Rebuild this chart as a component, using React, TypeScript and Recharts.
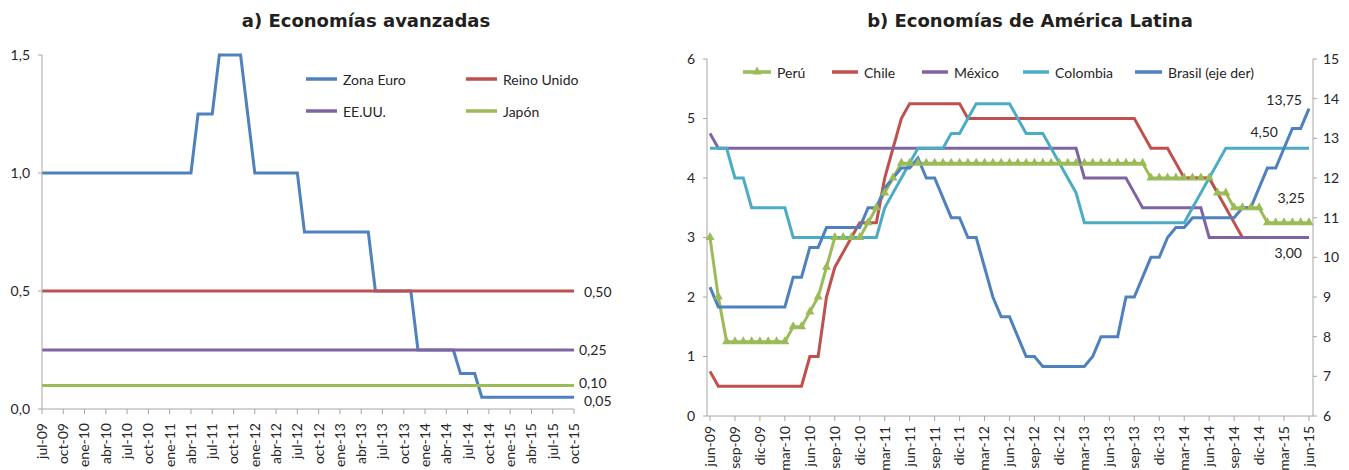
import { LineChart, Line, XAxis, YAxis, Legend, LabelList } from "recharts";

const FONT = "Lato, 'Open Sans', sans-serif";
const TEXT = "#262626";
const AXIS = "#A6A6A6";

// a) Economías avanzadas, monthly jul-09 .. oct-15
const mesesAvanzadas = [
  "jul-09", "ago-09", "sep-09", "oct-09", "nov-09", "dic-09",
  "ene-10", "feb-10", "mar-10", "abr-10", "may-10", "jun-10", "jul-10", "ago-10", "sep-10", "oct-10", "nov-10", "dic-10",
  "ene-11", "feb-11", "mar-11", "abr-11", "may-11", "jun-11", "jul-11", "ago-11", "sep-11", "oct-11", "nov-11", "dic-11",
  "ene-12", "feb-12", "mar-12", "abr-12", "may-12", "jun-12", "jul-12", "ago-12", "sep-12", "oct-12", "nov-12", "dic-12",
  "ene-13", "feb-13", "mar-13", "abr-13", "may-13", "jun-13", "jul-13", "ago-13", "sep-13", "oct-13", "nov-13", "dic-13",
  "ene-14", "feb-14", "mar-14", "abr-14", "may-14", "jun-14", "jul-14", "ago-14", "sep-14", "oct-14", "nov-14", "dic-14",
  "ene-15", "feb-15", "mar-15", "abr-15", "may-15", "jun-15", "jul-15", "ago-15", "sep-15", "oct-15",
];

const zonaEuro = [
  1, 1, 1, 1, 1, 1,
  1, 1, 1, 1, 1, 1, 1, 1, 1, 1, 1, 1,
  1, 1, 1, 1, 1.25, 1.25, 1.25, 1.5, 1.5, 1.5, 1.5, 1.25,
  1, 1, 1, 1, 1, 1, 1, 0.75, 0.75, 0.75, 0.75, 0.75,
  0.75, 0.75, 0.75, 0.75, 0.75, 0.5, 0.5, 0.5, 0.5, 0.5, 0.5, 0.25,
  0.25, 0.25, 0.25, 0.25, 0.25, 0.15, 0.15, 0.15, 0.05, 0.05, 0.05, 0.05,
  0.05, 0.05, 0.05, 0.05, 0.05, 0.05, 0.05, 0.05, 0.05, 0.05,
];

const reinoUnido = [
  0.5, 0.5, 0.5, 0.5, 0.5, 0.5,
  0.5, 0.5, 0.5, 0.5, 0.5, 0.5, 0.5, 0.5, 0.5, 0.5, 0.5, 0.5,
  0.5, 0.5, 0.5, 0.5, 0.5, 0.5, 0.5, 0.5, 0.5, 0.5, 0.5, 0.5,
  0.5, 0.5, 0.5, 0.5, 0.5, 0.5, 0.5, 0.5, 0.5, 0.5, 0.5, 0.5,
  0.5, 0.5, 0.5, 0.5, 0.5, 0.5, 0.5, 0.5, 0.5, 0.5, 0.5, 0.5,
  0.5, 0.5, 0.5, 0.5, 0.5, 0.5, 0.5, 0.5, 0.5, 0.5, 0.5, 0.5,
  0.5, 0.5, 0.5, 0.5, 0.5, 0.5, 0.5, 0.5, 0.5, 0.5,
];

const eeuu = [
  0.25, 0.25, 0.25, 0.25, 0.25, 0.25,
  0.25, 0.25, 0.25, 0.25, 0.25, 0.25, 0.25, 0.25, 0.25, 0.25, 0.25, 0.25,
  0.25, 0.25, 0.25, 0.25, 0.25, 0.25, 0.25, 0.25, 0.25, 0.25, 0.25, 0.25,
  0.25, 0.25, 0.25, 0.25, 0.25, 0.25, 0.25, 0.25, 0.25, 0.25, 0.25, 0.25,
  0.25, 0.25, 0.25, 0.25, 0.25, 0.25, 0.25, 0.25, 0.25, 0.25, 0.25, 0.25,
  0.25, 0.25, 0.25, 0.25, 0.25, 0.25, 0.25, 0.25, 0.25, 0.25, 0.25, 0.25,
  0.25, 0.25, 0.25, 0.25, 0.25, 0.25, 0.25, 0.25, 0.25, 0.25,
];

const japon = [
  0.1, 0.1, 0.1, 0.1, 0.1, 0.1,
  0.1, 0.1, 0.1, 0.1, 0.1, 0.1, 0.1, 0.1, 0.1, 0.1, 0.1, 0.1,
  0.1, 0.1, 0.1, 0.1, 0.1, 0.1, 0.1, 0.1, 0.1, 0.1, 0.1, 0.1,
  0.1, 0.1, 0.1, 0.1, 0.1, 0.1, 0.1, 0.1, 0.1, 0.1, 0.1, 0.1,
  0.1, 0.1, 0.1, 0.1, 0.1, 0.1, 0.1, 0.1, 0.1, 0.1, 0.1, 0.1,
  0.1, 0.1, 0.1, 0.1, 0.1, 0.1, 0.1, 0.1, 0.1, 0.1, 0.1, 0.1,
  0.1, 0.1, 0.1, 0.1, 0.1, 0.1, 0.1, 0.1, 0.1, 0.1,
];

// b) Economías de América Latina, monthly jun-09 .. jun-15
const mesesLatam = [
  "jun-09", "jul-09", "ago-09", "sep-09", "oct-09", "nov-09", "dic-09",
  "ene-10", "feb-10", "mar-10", "abr-10", "may-10", "jun-10", "jul-10", "ago-10", "sep-10", "oct-10", "nov-10", "dic-10",
  "ene-11", "feb-11", "mar-11", "abr-11", "may-11", "jun-11", "jul-11", "ago-11", "sep-11", "oct-11", "nov-11", "dic-11",
  "ene-12", "feb-12", "mar-12", "abr-12", "may-12", "jun-12", "jul-12", "ago-12", "sep-12", "oct-12", "nov-12", "dic-12",
  "ene-13", "feb-13", "mar-13", "abr-13", "may-13", "jun-13", "jul-13", "ago-13", "sep-13", "oct-13", "nov-13", "dic-13",
  "ene-14", "feb-14", "mar-14", "abr-14", "may-14", "jun-14", "jul-14", "ago-14", "sep-14", "oct-14", "nov-14", "dic-14",
  "ene-15", "feb-15", "mar-15", "abr-15", "may-15", "jun-15",
];

const peru = [
  3, 2, 1.25, 1.25, 1.25, 1.25, 1.25,
  1.25, 1.25, 1.25, 1.5, 1.5, 1.75, 2, 2.5, 3, 3, 3, 3,
  3.25, 3.5, 3.75, 4, 4.25, 4.25, 4.25, 4.25, 4.25, 4.25, 4.25, 4.25,
  4.25, 4.25, 4.25, 4.25, 4.25, 4.25, 4.25, 4.25, 4.25, 4.25, 4.25, 4.25,
  4.25, 4.25, 4.25, 4.25, 4.25, 4.25, 4.25, 4.25, 4.25, 4.25, 4, 4,
  4, 4, 4, 4, 4, 4, 3.75, 3.75, 3.5, 3.5, 3.5, 3.5,
  3.25, 3.25, 3.25, 3.25, 3.25, 3.25,
];

const chile = [
  0.75, 0.5, 0.5, 0.5, 0.5, 0.5, 0.5,
  0.5, 0.5, 0.5, 0.5, 0.5, 1, 1, 2, 2.5, 2.75, 3, 3.25,
  3.25, 3.25, 4, 4.5, 5, 5.25, 5.25, 5.25, 5.25, 5.25, 5.25, 5.25,
  5, 5, 5, 5, 5, 5, 5, 5, 5, 5, 5, 5,
  5, 5, 5, 5, 5, 5, 5, 5, 5, 4.75, 4.5, 4.5,
  4.5, 4.25, 4, 4, 4, 4, 3.75, 3.5, 3.25, 3, 3, 3,
  3, 3, 3, 3, 3, 3,
];

const mexico = [
  4.75, 4.5, 4.5, 4.5, 4.5, 4.5, 4.5,
  4.5, 4.5, 4.5, 4.5, 4.5, 4.5, 4.5, 4.5, 4.5, 4.5, 4.5, 4.5,
  4.5, 4.5, 4.5, 4.5, 4.5, 4.5, 4.5, 4.5, 4.5, 4.5, 4.5, 4.5,
  4.5, 4.5, 4.5, 4.5, 4.5, 4.5, 4.5, 4.5, 4.5, 4.5, 4.5, 4.5,
  4.5, 4.5, 4, 4, 4, 4, 4, 4, 3.75, 3.5, 3.5, 3.5,
  3.5, 3.5, 3.5, 3.5, 3.5, 3, 3, 3, 3, 3, 3, 3,
  3, 3, 3, 3, 3, 3,
];

const colombia = [
  4.5, 4.5, 4.5, 4, 4, 3.5, 3.5,
  3.5, 3.5, 3.5, 3, 3, 3, 3, 3, 3, 3, 3, 3,
  3, 3, 3.5, 3.75, 4, 4.25, 4.5, 4.5, 4.5, 4.5, 4.75, 4.75,
  5, 5.25, 5.25, 5.25, 5.25, 5.25, 5, 4.75, 4.75, 4.75, 4.5, 4.25,
  4, 3.75, 3.25, 3.25, 3.25, 3.25, 3.25, 3.25, 3.25, 3.25, 3.25, 3.25,
  3.25, 3.25, 3.25, 3.5, 3.75, 4, 4.25, 4.5, 4.5, 4.5, 4.5, 4.5,
  4.5, 4.5, 4.5, 4.5, 4.5, 4.5,
];

const brasil = [
  9.25, 8.75, 8.75, 8.75, 8.75, 8.75, 8.75,
  8.75, 8.75, 8.75, 9.5, 9.5, 10.25, 10.25, 10.75, 10.75, 10.75, 10.75, 10.75,
  11.25, 11.25, 11.75, 12, 12.25, 12.25, 12.5, 12, 12, 11.5, 11, 11,
  10.5, 10.5, 9.75, 9, 8.5, 8.5, 8, 7.5, 7.5, 7.25, 7.25, 7.25,
  7.25, 7.25, 7.25, 7.5, 8, 8, 8, 9, 9, 9.5, 10, 10,
  10.5, 10.75, 10.75, 11, 11, 11, 11, 11, 11, 11.25, 11.25, 11.75,
  12.25, 12.25, 12.75, 13.25, 13.25, 13.75,
];

const avanzadasData = mesesAvanzadas.map((mes, i) => ({
  mes,
  zonaEuro: zonaEuro[i],
  reinoUnido: reinoUnido[i],
  eeuu: eeuu[i],
  japon: japon[i],
}));

const latamData = mesesLatam.map((mes, i) => ({
  mes,
  peru: peru[i],
  chile: chile[i],
  mexico: mexico[i],
  colombia: colombia[i],
  brasil: brasil[i],
}));

const fmt1 = (v: number) => v.toFixed(1).replace(".", ",");
const fmt2 = (v: number) => v.toFixed(2).replace(".", ",");

function MonthTick(props: any) {
  const { x, y, payload, gap } = props;
  return (
    <g transform={`translate(${x},${y + gap})`}>
      <text
        transform="rotate(-90)"
        textAnchor="end"
        dy="0.35em"
        fontSize={14}
        fontFamily={FONT}
        fill={TEXT}
      >
        {payload.value}
      </text>
    </g>
  );
}

// label drawn only at the last point of a series
const endLabel = (last: number, dx: number, dy: number, anchor: string) => (props: any) => {
  const { index, value } = props;
  if (index !== last) return null;
  const x = props.viewBox?.x ?? props.x;
  const y = props.viewBox?.y ?? props.y;
  return (
    <text
      x={x + dx}
      y={y + dy}
      textAnchor={anchor}
      dominantBaseline="central"
      fontSize={14}
      fontFamily={FONT}
      fill={TEXT}
    >
      {fmt2(Number(value))}
    </text>
  );
};

function Triangle(props: any) {
  const { cx, cy } = props;
  if (cx == null || cy == null) return null;
  return (
    <polygon
      points={`${cx - 4.5},${cy + 2.5} ${cx + 4.5},${cy + 2.5} ${cx},${cy - 5.5}`}
      fill="#9BBB59"
    />
  );
}

interface Slot {
  x1: number;
  x2: number;
  y: number;
}

const legendContent = (slots: Record<string, Slot>, w: number, h: number) => (props: any) => (
  <svg width={w} height={h}>
    {(props.payload || []).map((entry: any, i: number) => {
      const s = slots[entry.dataKey];
      if (!s) return null;
      const mid = (s.x1 + s.x2) / 2;
      return (
        <g key={`leg-${i}`}>
          <line x1={s.x1} x2={s.x2} y1={s.y} y2={s.y} stroke={entry.color} strokeWidth={3.5} />
          {entry.dataKey === "peru" && (
            <polygon
              points={`${mid - 4.5},${s.y + 2.5} ${mid + 4.5},${s.y + 2.5} ${mid},${s.y - 5.5}`}
              fill={entry.color}
            />
          )}
          <text
            x={s.x2 + 6}
            y={s.y}
            dominantBaseline="central"
            fontSize={14}
            fontFamily={FONT}
            fill={TEXT}
          >
            {entry.value}
          </text>
        </g>
      );
    })}
  </svg>
);

const avanzadasSlots: Record<string, Slot> = {
  zonaEuro: { x1: 306, x2: 337, y: 79 },
  reinoUnido: { x1: 466, x2: 497, y: 79 },
  eeuu: { x1: 306, x2: 337, y: 111 },
  japon: { x1: 466, x2: 497, y: 111 },
};

const latamSlots: Record<string, Slot> = {
  peru: { x1: 103, x2: 131, y: 72 },
  chile: { x1: 192, x2: 218, y: 72 },
  mexico: { x1: 282, x2: 308, y: 72 },
  colombia: { x1: 383, x2: 409, y: 72 },
  brasil: { x1: 495, x2: 522, y: 72 },
};

const tickStyle = { fontSize: 14, fontFamily: FONT, fill: TEXT };

export default function App() {
  const lastA = mesesAvanzadas.length - 1;
  const lastL = mesesLatam.length - 1;
  return (
    <div
      style={{
        position: "absolute",
        left: 0,
        top: 0,
        width: 1349,
        height: 470,
        background: "#fff",
        overflow: "hidden",
      }}
    >
      <svg width={1349} height={40} style={{ position: "absolute", left: 0, top: 0 }}>
        <text
          x={366}
          y={26.5}
          textAnchor="middle"
          fontSize={18}
          fontWeight="bold"
          fontFamily="'DejaVu Sans', sans-serif"
          fill="#231F20"
        >
          a) Economías avanzadas
        </text>
        <text
          x={1030}
          y={26.5}
          textAnchor="middle"
          fontSize={18}
          fontWeight="bold"
          fontFamily="'DejaVu Sans', sans-serif"
          fill="#231F20"
        >
          b) Economías de América Latina
        </text>
      </svg>

      <div style={{ position: "absolute", left: 0, top: 0 }}>
        <LineChart
          width={640}
          height={470}
          data={avanzadasData}
          margin={{ top: 55, right: 66, bottom: 11, left: 0 }}
        >
          <XAxis
            dataKey="mes"
            interval={2}
            height={50}
            tickSize={5}
            axisLine={{ stroke: AXIS }}
            tickLine={{ stroke: AXIS }}
            tick={(p: any) => <MonthTick {...p} gap={7} />}
          />
          <YAxis
            width={42}
            domain={[0, 1.5]}
            ticks={[0, 0.5, 1, 1.5]}
            tickFormatter={fmt1}
            tickSize={4}
            tickMargin={8}
            axisLine={{ stroke: AXIS }}
            tickLine={{ stroke: AXIS }}
            tick={tickStyle}
          />
          <Legend
            layout="horizontal"
            verticalAlign="middle"
            align="center"
            wrapperStyle={{ left: 0, top: 0, width: 640, height: 130 }}
            content={legendContent(avanzadasSlots, 640, 130)}
          />
          <Line
            dataKey="zonaEuro"
            name="Zona Euro"
            stroke="#4F81BD"
            strokeWidth={3}
            dot={false}
            isAnimationActive={false}
          >
            <LabelList dataKey="zonaEuro" content={endLabel(lastA, 10, 3, "start")} />
          </Line>
          <Line
            dataKey="reinoUnido"
            name="Reino Unido"
            stroke="#C0504D"
            strokeWidth={3}
            dot={false}
            isAnimationActive={false}
          >
            <LabelList dataKey="reinoUnido" content={endLabel(lastA, 10, 0, "start")} />
          </Line>
          <Line
            dataKey="eeuu"
            name="EE.UU."
            stroke="#8064A2"
            strokeWidth={3}
            dot={false}
            isAnimationActive={false}
          >
            <LabelList dataKey="eeuu" content={endLabel(lastA, 5, -1, "start")} />
          </Line>
          <Line
            dataKey="japon"
            name="Japón"
            stroke="#9BBB59"
            strokeWidth={3}
            dot={false}
            isAnimationActive={false}
          >
            <LabelList dataKey="japon" content={endLabel(lastA, 5, -3, "start")} />
          </Line>
        </LineChart>
      </div>

      <div style={{ position: "absolute", left: 640, top: 0 }}>
        <LineChart
          width={709}
          height={470}
          data={latamData}
          margin={{ top: 59, right: 0, bottom: 4, left: 27 }}
        >
          <XAxis
            dataKey="mes"
            interval={2}
            height={50}
            tickSize={5}
            padding={{ left: 3, right: 4 }}
            axisLine={{ stroke: AXIS }}
            tickLine={{ stroke: AXIS }}
            tick={(p: any) => <MonthTick {...p} gap={3} />}
          />
          <YAxis
            yAxisId="left"
            width={40}
            domain={[0, 6]}
            ticks={[0, 1, 2, 3, 4, 5, 6]}
            tickSize={4}
            tickMargin={8}
            axisLine={{ stroke: AXIS }}
            tickLine={{ stroke: AXIS }}
            tick={tickStyle}
          />
          <YAxis
            yAxisId="right"
            orientation="right"
            width={36}
            domain={[6, 15]}
            ticks={[6, 7, 8, 9, 10, 11, 12, 13, 14, 15]}
            tickSize={4}
            tickMargin={6}
            axisLine={{ stroke: AXIS }}
            tickLine={{ stroke: AXIS }}
            tick={tickStyle}
          />
          <Legend
            layout="horizontal"
            verticalAlign="middle"
            align="center"
            wrapperStyle={{ left: 0, top: 0, width: 709, height: 100 }}
            content={legendContent(latamSlots, 709, 100)}
          />
          <Line
            yAxisId="left"
            dataKey="peru"
            name="Perú"
            stroke="#9BBB59"
            strokeWidth={3}
            dot={<Triangle />}
            isAnimationActive={false}
          >
            <LabelList dataKey="peru" content={endLabel(lastL, -4, -25, "end")} />
          </Line>
          <Line
            yAxisId="left"
            dataKey="chile"
            name="Chile"
            stroke="#C0504D"
            strokeWidth={3}
            dot={false}
            isAnimationActive={false}
          >
            <LabelList dataKey="chile" content={endLabel(lastL, -7, 15, "end")} />
          </Line>
          <Line
            yAxisId="left"
            dataKey="mexico"
            name="México"
            stroke="#8064A2"
            strokeWidth={3}
            dot={false}
            isAnimationActive={false}
          />
          <Line
            yAxisId="left"
            dataKey="colombia"
            name="Colombia"
            stroke="#4BACC6"
            strokeWidth={3}
            dot={false}
            isAnimationActive={false}
          >
            <LabelList dataKey="colombia" content={endLabel(lastL, -31, -17, "end")} />
          </Line>
          <Line
            yAxisId="right"
            dataKey="brasil"
            name="Brasil (eje der)"
            stroke="#4F81BD"
            strokeWidth={3}
            dot={false}
            isAnimationActive={false}
          >
            <LabelList dataKey="brasil" content={endLabel(lastL, -7, -9, "end")} />
          </Line>
        </LineChart>
      </div>
    </div>
  );
}
